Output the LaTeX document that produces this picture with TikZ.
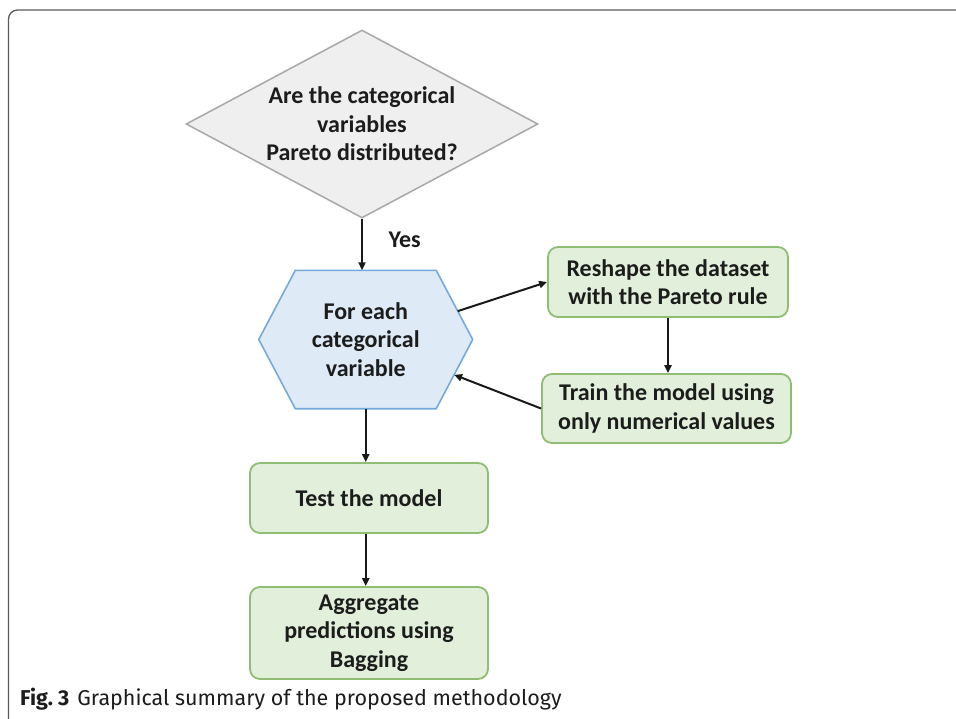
\documentclass[tikz,border=0pt]{standalone}
\usepackage{fontspec}
\setmainfont{Carlito}
\newfontfamily\capfont{Fira Sans}
\usetikzlibrary{shapes.geometric,arrows.meta,calc,backgrounds}
\definecolor{diafill}{HTML}{EFEFEF}
\definecolor{diadraw}{HTML}{A8A8A8}
\definecolor{hexfill}{HTML}{DEEBF7}
\definecolor{hexdraw}{HTML}{74AADB}
\definecolor{gfill}{HTML}{E2EFDA}
\definecolor{gdraw}{HTML}{90BD74}
\definecolor{txt}{HTML}{1C1C1C}
\definecolor{framecol}{HTML}{5A5A5A}
\begin{document}
\begin{tikzpicture}[x=1pt,y=-1pt,
  lbl/.style={font=\bfseries\fontsize{24}{28.5}\selectfont, text=txt, align=center},
  dia/.style={lbl, diamond, shape aspect=1.872, minimum width=352pt, minimum height=188pt,
              inner sep=0pt, fill=diafill, draw=diadraw, line width=1.5pt},
  hexnode/.style={lbl, rectangle, minimum width=140.5pt, minimum height=138pt, inner sep=0pt},
  hexshape/.style={fill=hexfill, draw=hexdraw, line width=1.6pt, line join=miter},
  gbox/.style={lbl, rectangle, rounded corners=10pt, fill=gfill, draw=gdraw, line width=1.8pt, inner sep=0pt},
  arr/.style={draw=black!90, line width=2pt, -{Triangle[length=8pt,width=7pt]}},
  frame/.style={draw=framecol, line width=1.3pt, rounded corners=9pt}
]
\useasboundingbox (0,0) rectangle (956,718);
\draw[frame] (957,10) -- (8.5,10) -- (8.5,719);

% diamond
\node[dia] (q) at (362,124) {Are the categorical\\variables\\Pareto distributed?};

% hexagon
\node[hexnode] (h) at (365.75,339.5) {For each\\categorical\\variable};
\coordinate (hE) at ($(h.east)+(36.5,0)$);
\coordinate (hW) at ($(h.west)-(36.5,0)$);
\begin{scope}[on background layer]
\draw[hexshape] (h.north west) -- (h.north east) -- (hE) -- (h.south east) -- (h.south west) -- (hW) -- cycle;
\end{scope}

% boxes
\node[gbox, minimum width=240pt, minimum height=70pt] (r1) at (668,282) {Reshape the dataset\\with the Pareto rule};
\node[gbox, minimum width=249pt, minimum height=69pt] (r2) at (666.5,408.5) {Train the model using\\only numerical values};
\node[gbox, minimum width=238pt, minimum height=70pt] (t) at (369,498) {Test the model};
\node[gbox, minimum width=238pt, minimum height=92pt] (a) at (369,633) {Aggregate\\predictions using\\Bagging};

% connectors
\draw[arr] (q.south) -- (q.south |- h.north);
\node[lbl, anchor=west] (yes) at (385,240) {Yes};
\coordinate (hA) at ($(h.north east)!0.59!(hE)$);
\coordinate (hB) at ($(hE)!0.51!(h.south east)$);
\draw[arr] (hA) -- (r1.west);
\draw[arr] (r2.west) -- (hB);
\draw[arr] (r1.south) -- (r1.south |- r2.north);
\draw[arr] (h.south) -- (h.south |- t.north);
\draw[arr] (h.south |- t.south) -- (h.south |- a.north);

% caption
\node[anchor=base west, inner sep=0pt, font=\capfont\fontsize{21.5}{24}\selectfont, text=txt] (cap) at (20,705)
  {\textbf{Fig.~3}\hspace{8pt}Graphical summary of the proposed methodology};
\end{tikzpicture}
\end{document}
